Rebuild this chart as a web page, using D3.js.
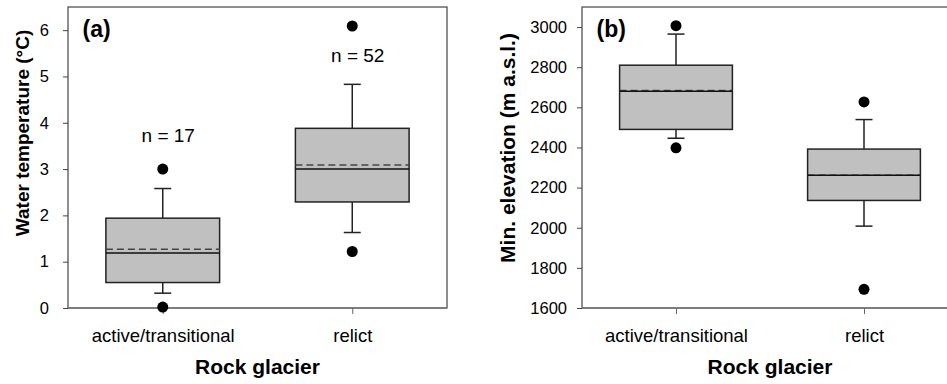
<!DOCTYPE html>
<meta charset="utf-8">
<script src="https://d3js.org/d3.v7.min.js"></script>
<style>
  body { margin: 0; background: #fff; }
  svg text { font-family: "Liberation Sans", Arial, sans-serif; fill: #000; }
</style>
<body>
<div id="chart"></div>
<script>
// categories
const categories = ["active/transitional", "relict"];

// (a) water temperature (°C)
const tempLow = [0.32, 1.63];
const tempQ1 = [0.55, 2.29];
const tempMedian = [1.19, 3.0];
const tempMean = [1.27, 3.09];
const tempQ3 = [1.94, 3.88];
const tempHigh = [2.58, 4.83];
const tempOutliers = [[0.02, 3.0], [1.22, 6.09]];
const tempN = [17, 52];
const tempTicks = [0, 1, 2, 3, 4, 5, 6];

// (b) min. elevation (m a.s.l.)
const elevLow = [2446, 2008];
const elevQ1 = [2490, 2136];
const elevMedian = [2680, 2261];
const elevMean = [2684, 2262];
const elevQ3 = [2810, 2392];
const elevHigh = [2965, 2539];
const elevOutliers = [[2398, 3007], [1693, 2627]];
const elevTicks = [1600, 1800, 2000, 2200, 2400, 2600, 2800, 3000];

const W = 947, H = 384;
const svg = d3.select("#chart").append("svg")
  .attr("width", W).attr("height", H);

function panel(opt) {
  const g = svg.append("g");
  const x = d3.scalePoint().domain(categories).range([opt.x0, opt.x1]).padding(0.5);
  const y = d3.scaleLinear().domain(opt.domain).range([308, 7]);
  const boxW = x.step() * 0.6;
  const capW = 17;

  // y axis
  const ya = g.append("g")
    .attr("transform", `translate(${opt.x0},0)`)
    .call(d3.axisLeft(y).tickValues(opt.ticks).tickFormat(d3.format("d"))
      .tickSize(5).tickPadding(opt.pad));
  ya.select(".domain").remove();
  ya.selectAll("line").attr("stroke", "#444");
  ya.selectAll("text").style("font-size", "16.5px");

  // x axis
  const xa = g.append("g")
    .attr("transform", "translate(0,308)")
    .call(d3.axisBottom(x).tickSize(6).tickPadding(15));
  xa.select(".domain").remove();
  xa.selectAll("line").attr("stroke", "#666");
  xa.selectAll("text").style("font-size", "18.5px");

  // frame
  g.append("rect")
    .attr("x", opt.x0).attr("y", 7)
    .attr("width", opt.x1 - opt.x0).attr("height", 301)
    .attr("fill", "none").attr("stroke", "#444").attr("stroke-width", 1.2);
  g.append("line")
    .attr("x1", opt.x0).attr("x2", opt.x1).attr("y1", 308).attr("y2", 308)
    .attr("stroke", "#777").attr("stroke-width", 1.4);

  categories.forEach((c, i) => {
    const cx = x(c);
    // whiskers
    [[opt.low[i], opt.q1[i]], [opt.q3[i], opt.high[i]]].forEach(([a, b]) => {
      g.append("line").attr("x1", cx).attr("x2", cx)
        .attr("y1", y(a)).attr("y2", y(b))
        .attr("stroke", "#222").attr("stroke-width", 1.5);
    });
    [opt.low[i], opt.high[i]].forEach(v => {
      g.append("line").attr("x1", cx - capW / 2).attr("x2", cx + capW / 2)
        .attr("y1", y(v)).attr("y2", y(v))
        .attr("stroke", "#222").attr("stroke-width", 1.5);
    });
    // box
    g.append("rect")
      .attr("x", cx - boxW / 2).attr("y", y(opt.q3[i]))
      .attr("width", boxW).attr("height", y(opt.q1[i]) - y(opt.q3[i]))
      .attr("fill", "#c0c0c0").attr("stroke", "#222").attr("stroke-width", 1.5);
    // mean (dashed) then median
    g.append("line").attr("x1", cx - boxW / 2).attr("x2", cx + boxW / 2)
      .attr("y1", y(opt.mean[i])).attr("y2", y(opt.mean[i]))
      .attr("stroke", "#444").attr("stroke-width", 1.5)
      .attr("stroke-dasharray", "7,4");
    g.append("line").attr("x1", cx - boxW / 2).attr("x2", cx + boxW / 2)
      .attr("y1", y(opt.median[i])).attr("y2", y(opt.median[i]))
      .attr("stroke", "#111").attr("stroke-width", 1.5);
    // outliers
    opt.outliers[i].forEach(v => {
      g.append("circle").attr("cx", cx).attr("cy", y(v)).attr("r", 5.5)
        .attr("fill", "#000");
    });
  });

  // panel letter
  g.append("text").attr("x", opt.x0 + 14.5).attr("y", 37)
    .style("font-size", "23px").style("font-weight", "bold")
    .text(opt.letter);

  // axis titles
  g.append("text")
    .attr("transform", `translate(${opt.titleX},${opt.titleY}) rotate(-90)`)
    .attr("text-anchor", "middle")
    .style("font-size", opt.titleSize).style("font-weight", "bold")
    .text(opt.ytitle);
  g.append("text")
    .attr("x", (opt.x0 + opt.x1) / 2).attr("y", 374)
    .attr("text-anchor", "middle")
    .style("font-size", "21px").style("font-weight", "bold")
    .text("Rock glacier");

  return { g, x, y };
}

const a = panel({
  x0: 68, x1: 447, domain: [0, 6.5], ticks: tempTicks, pad: 14,
  low: tempLow, q1: tempQ1, median: tempMedian, mean: tempMean,
  q3: tempQ3, high: tempHigh, outliers: tempOutliers,
  letter: "(a)", ytitle: "Water temperature (°C)",
  titleX: 29, titleY: 133, titleSize: "19px"
});

const b = panel({
  x0: 582, x1: 958, domain: [1600, 3100], ticks: elevTicks, pad: 10,
  low: elevLow, q1: elevQ1, median: elevMedian, mean: elevMean,
  q3: elevQ3, high: elevHigh, outliers: elevOutliers,
  letter: "(b)", ytitle: "Min. elevation (m a.s.l.)",
  titleX: 515, titleY: 148, titleSize: "21px"
});

// sample sizes above the boxes in (a)
const nY = [3.59, 5.32];
categories.forEach((c, i) => {
  a.g.append("text")
    .attr("x", a.x(c) + 5.5).attr("y", a.y(nY[i]))
    .attr("text-anchor", "middle")
    .style("font-size", "19px")
    .text("n = " + tempN[i]);
});
</script>
</body>
